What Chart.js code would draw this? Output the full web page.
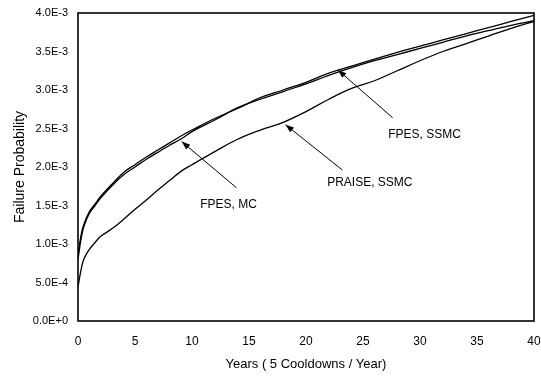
<!DOCTYPE html>
<html>
<head>
<meta charset="utf-8">
<script src="https://cdn.jsdelivr.net/npm/chart.js@4"></script>
<style>
  html, body { margin: 0; padding: 0; background: #fff; }
  #wrap { width: 541px; height: 376px; }
</style>
</head>
<body>
<div id="wrap"><canvas id="failChart" width="541" height="376"></canvas></div>
<script>
// years ( 5 cooldowns / year )
const years = [0, 0.25, 0.5, 1, 1.5, 2, 3, 4, 5, 6, 7, 8, 9, 10, 12, 14, 16, 18, 20, 22, 24, 26, 28, 30, 32, 34, 36, 38, 40];

// failure probability, in units of 1E-3
const fpesSsmc = [0.85, 1.1, 1.25, 1.42, 1.52, 1.62, 1.78, 1.93, 2.03, 2.13, 2.22, 2.31, 2.4, 2.48, 2.63, 2.76, 2.9, 3.0, 3.1, 3.22, 3.31, 3.4, 3.49, 3.57, 3.65, 3.73, 3.81, 3.89, 3.97];
const fpesMc = [0.8, 1.05, 1.22, 1.4, 1.5, 1.6, 1.76, 1.9, 2.0, 2.1, 2.19, 2.28, 2.36, 2.46, 2.61, 2.77, 2.88, 2.98, 3.08, 3.19, 3.29, 3.38, 3.46, 3.54, 3.62, 3.7, 3.77, 3.84, 3.9];
const praiseSsmc = [0.44, 0.65, 0.8, 0.93, 1.02, 1.1, 1.2, 1.32, 1.45, 1.57, 1.7, 1.82, 1.94, 2.03, 2.2, 2.36, 2.48, 2.58, 2.72, 2.88, 3.02, 3.12, 3.25, 3.38, 3.5, 3.6, 3.7, 3.8, 3.89];

const yTickLabels = ['0.0E+0', '5.0E-4', '1.0E-3', '1.5E-3', '2.0E-3', '2.5E-3', '3.0E-3', '3.5E-3', '4.0E-3'];
const xTickLabels = ['0', '5', '10', '15', '20', '25', '30', '35', '40'];

// callouts: label text, text spot, arrow tail, arrow tip (data units)
const callouts = [
  { text: 'FPES, MC', at: [13.2, 1.51], tail: [13.9, 1.73], tip: [9.1, 2.33] },
  { text: 'FPES, SSMC', at: [30.4, 2.42], tail: [27.6, 2.64], tip: [22.8, 3.26] },
  { text: 'PRAISE, SSMC', at: [25.6, 1.79], tail: [23.2, 1.96], tip: [18.2, 2.55] },
];

const toPoints = (vals) => vals.map((v, i) => ({ x: years[i], y: v * 1e-3 }));

// frame + arrows + callout text
const calloutPlugin = {
  id: 'callouts',
  afterDatasetsDraw(chart) {
    const { ctx, chartArea: a, scales } = chart;
    const px = (p) => [scales.x.getPixelForValue(p[0]), scales.y.getPixelForValue(p[1] * 1e-3)];
    ctx.save();
    ctx.strokeStyle = '#000';
    ctx.lineWidth = 1.6;
    ctx.strokeRect(a.left, a.top, a.right - a.left, a.bottom - a.top);

    ctx.lineWidth = 1;
    ctx.fillStyle = '#000';
    callouts.forEach((c) => {
      const [x1, y1] = px(c.tail);
      const [x2, y2] = px(c.tip);
      ctx.beginPath();
      ctx.moveTo(x1, y1);
      ctx.lineTo(x2, y2);
      ctx.stroke();
      const ang = Math.atan2(y2 - y1, x2 - x1);
      const len = 9, wid = 0.35;
      ctx.beginPath();
      ctx.moveTo(x2, y2);
      ctx.lineTo(x2 - len * Math.cos(ang - wid), y2 - len * Math.sin(ang - wid));
      ctx.lineTo(x2 - len * Math.cos(ang + wid), y2 - len * Math.sin(ang + wid));
      ctx.closePath();
      ctx.fill();

      const [tx, ty] = px(c.at);
      ctx.font = '12px "Liberation Sans", Arial, sans-serif';
      ctx.textAlign = 'center';
      ctx.textBaseline = 'middle';
      ctx.fillText(c.text, tx, ty);
    });
    ctx.restore();
  },
};

const bgPlugin = {
  id: 'whiteBg',
  beforeDraw(chart) {
    const { ctx } = chart;
    ctx.save();
    ctx.fillStyle = '#fff';
    ctx.fillRect(0, 0, chart.width, chart.height);
    ctx.restore();
  },
};

const lineStyle = { borderColor: '#000', borderWidth: 1.3, pointRadius: 0, tension: 0.4, fill: false };

new Chart(document.getElementById('failChart'), {
  type: 'line',
  data: {
    datasets: [
      { label: 'FPES, SSMC', data: toPoints(fpesSsmc), ...lineStyle },
      { label: 'FPES, MC', data: toPoints(fpesMc), ...lineStyle },
      { label: 'PRAISE, SSMC', data: toPoints(praiseSsmc), ...lineStyle },
    ],
  },
  options: {
    responsive: false,
    animation: false,
    layout: { padding: { left: 0, right: 0, top: 13, bottom: 0 } },
    plugins: {
      legend: { display: false },
      tooltip: { enabled: false },
    },
    scales: {
      x: {
        type: 'linear',
        min: 0,
        max: 40,
        ticks: {
          stepSize: 5,
          color: '#000',
          font: { family: '"Liberation Sans", Arial, sans-serif', size: 12 },
          padding: 13,
          maxRotation: 0,
          callback: (v, i) => xTickLabels[i],
        },
        grid: { display: false, drawTicks: false },
        border: { display: false },
        title: {
          display: true,
          text: 'Years ( 5 Cooldowns / Year)',
          color: '#000',
          font: { family: '"Liberation Sans", Arial, sans-serif', size: 13 },
          padding: { top: 2, bottom: 4 },
        },
        afterFit: (s) => { s.height = 55; s.paddingLeft = 0; s.paddingRight = 7; },
      },
      y: {
        min: 0,
        max: 0.004,
        ticks: {
          stepSize: 0.0005,
          color: '#000',
          font: { family: '"Liberation Sans", Arial, sans-serif', size: 11 },
          padding: 10,
          callback: (v, i) => yTickLabels[i],
        },
        grid: { display: false, drawTicks: false },
        border: { display: false },
        title: {
          display: true,
          text: 'Failure Probability',
          color: '#000',
          font: { family: '"Liberation Sans", Arial, sans-serif', size: 14 },
          padding: { top: 12, bottom: 4 },
        },
        afterFit: (s) => { s.width = 78; s.paddingTop = 0; s.paddingBottom = 0; },
      },
    },
  },
  plugins: [bgPlugin, calloutPlugin],
});
</script>
</body>
</html>
